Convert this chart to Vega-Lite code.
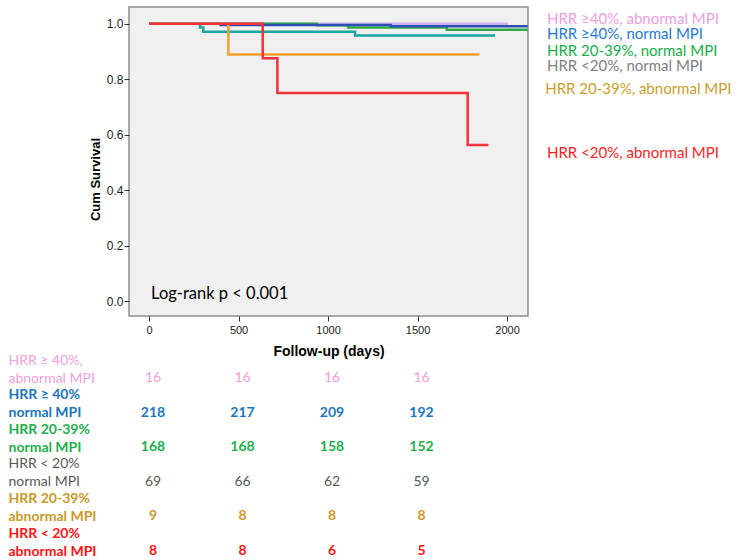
{
  "$schema": "https://vega.github.io/schema/vega-lite/v6.json",
  "padding": {"left": 8, "top": 6, "right": 0, "bottom": 0},
  "background": "white",
  "bounds": "flush",
  "spacing": 20,
  "config": {"font": "Liberation Sans", "axis": {"grid": false}},
  "resolve": {"scale": {"y": "independent", "color": "independent"}},
  "datasets": {
    "curves": [
      {"group": "HRR ≥40%, abnormal MPI", "day": 0, "surv": 1},
      {"group": "HRR ≥40%, abnormal MPI", "day": 2006, "surv": 1},
      {"group": "HRR 20-39%, normal MPI", "day": 0, "surv": 1},
      {"group": "HRR 20-39%, normal MPI", "day": 937, "surv": 0.994},
      {"group": "HRR 20-39%, normal MPI", "day": 1112, "surv": 0.986},
      {"group": "HRR 20-39%, normal MPI", "day": 1663, "surv": 0.978},
      {"group": "HRR 20-39%, normal MPI", "day": 2115, "surv": 0.978},
      {"group": "HRR ≥40%, normal MPI", "day": 0, "surv": 1},
      {"group": "HRR ≥40%, normal MPI", "day": 400, "surv": 0.995},
      {"group": "HRR ≥40%, normal MPI", "day": 1350, "surv": 0.991},
      {"group": "HRR ≥40%, normal MPI", "day": 2115, "surv": 0.991},
      {"group": "HRR <20%, normal MPI", "day": 0, "surv": 1},
      {"group": "HRR <20%, normal MPI", "day": 285, "surv": 0.986},
      {"group": "HRR <20%, normal MPI", "day": 303, "surv": 0.971},
      {"group": "HRR <20%, normal MPI", "day": 1151, "surv": 0.957},
      {"group": "HRR <20%, normal MPI", "day": 1933, "surv": 0.957},
      {"group": "HRR 20-39%, abnormal MPI", "day": 0, "surv": 1},
      {"group": "HRR 20-39%, abnormal MPI", "day": 443, "surv": 0.889},
      {"group": "HRR 20-39%, abnormal MPI", "day": 1845, "surv": 0.889},
      {"group": "HRR <20%, abnormal MPI", "day": 0, "surv": 1},
      {"group": "HRR <20%, abnormal MPI", "day": 635, "surv": 0.875},
      {"group": "HRR <20%, abnormal MPI", "day": 717, "surv": 0.75},
      {"group": "HRR <20%, abnormal MPI", "day": 1780, "surv": 0.5625},
      {"group": "HRR <20%, abnormal MPI", "day": 1896, "surv": 0.5625}
    ],
    "risk": [
      {"group": "HRR ≥ 40%,|abnormal MPI", "day": 0, "n": 16},
      {"group": "HRR ≥ 40%,|abnormal MPI", "day": 500, "n": 16},
      {"group": "HRR ≥ 40%,|abnormal MPI", "day": 1000, "n": 16},
      {"group": "HRR ≥ 40%,|abnormal MPI", "day": 1500, "n": 16},
      {"group": "HRR ≥ 40%|normal MPI", "day": 0, "n": 218},
      {"group": "HRR ≥ 40%|normal MPI", "day": 500, "n": 217},
      {"group": "HRR ≥ 40%|normal MPI", "day": 1000, "n": 209},
      {"group": "HRR ≥ 40%|normal MPI", "day": 1500, "n": 192},
      {"group": "HRR 20-39%|normal MPI", "day": 0, "n": 168},
      {"group": "HRR 20-39%|normal MPI", "day": 500, "n": 168},
      {"group": "HRR 20-39%|normal MPI", "day": 1000, "n": 158},
      {"group": "HRR 20-39%|normal MPI", "day": 1500, "n": 152},
      {"group": "HRR < 20%|normal MPI", "day": 0, "n": 69},
      {"group": "HRR < 20%|normal MPI", "day": 500, "n": 66},
      {"group": "HRR < 20%|normal MPI", "day": 1000, "n": 62},
      {"group": "HRR < 20%|normal MPI", "day": 1500, "n": 59},
      {"group": "HRR 20-39%|abnormal MPI", "day": 0, "n": 9},
      {"group": "HRR 20-39%|abnormal MPI", "day": 500, "n": 8},
      {"group": "HRR 20-39%|abnormal MPI", "day": 1000, "n": 8},
      {"group": "HRR 20-39%|abnormal MPI", "day": 1500, "n": 8},
      {"group": "HRR < 20%|abnormal MPI", "day": 0, "n": 8},
      {"group": "HRR < 20%|abnormal MPI", "day": 500, "n": 8},
      {"group": "HRR < 20%|abnormal MPI", "day": 1000, "n": 6},
      {"group": "HRR < 20%|abnormal MPI", "day": 1500, "n": 5}
    ]
  },
  "vconcat": [
    {
      "width": 399,
      "height": 309,
      "view": {"fill": "#f0f0f0", "stroke": "#8c8c8c", "strokeWidth": 1.5},
      "layer": [
        {
          "data": {"name": "curves"},
          "transform": [{"filter": "datum.group != 'HRR <20%, abnormal MPI'"}],
          "mark": {"type": "line", "interpolate": "step-after", "strokeWidth": 2.5},
          "encoding": {
            "x": {"field": "day", "type": "quantitative",
              "scale": {"domain": [-112, 2117], "nice": false, "zero": false},
              "axis": {"values": [0, 500, 1000, 1500, 2000], "format": "d", "title": "Follow-up (days)", "domain": false,
                "tickSize": 5, "tickColor": "#333", "labelFontSize": 11, "labelColor": "#222", "labelPadding": 3,
                "titleFontSize": 14, "titleFontWeight": "bold", "titleColor": "#000", "titlePadding": 9}},
            "y": {"field": "surv", "type": "quantitative",
              "scale": {"domain": [-0.054, 1.06], "nice": false, "zero": false},
              "axis": {"values": [0, 0.2, 0.4, 0.6, 0.8, 1.0], "format": ".1f", "title": "Cum Survival", "domain": false,
                "tickSize": 5, "tickColor": "#333", "labelFontSize": 12, "labelColor": "#222", "labelPadding": 1,
                "titleFontSize": 13, "titleFontWeight": "bold", "titleColor": "#000", "titlePadding": 4, "titleY": 172}},
            "color": {"field": "group", "type": "nominal", "legend": null,
              "scale": {"domain": ["HRR ≥40%, abnormal MPI", "HRR ≥40%, normal MPI", "HRR 20-39%, normal MPI", "HRR <20%, normal MPI", "HRR 20-39%, abnormal MPI", "HRR <20%, abnormal MPI"],
                "range": ["#cdb0ee", "#2f4fb5", "#2eaa44", "#1ca6a0", "#ff9e2c", "#f2333a"]}}
          }
        },
        {
          "data": {"name": "curves"},
          "transform": [{"filter": "datum.group == 'HRR <20%, abnormal MPI'"}],
          "mark": {"type": "line", "interpolate": "step-after", "strokeWidth": 2.5},
          "encoding": {
            "x": {"field": "day", "type": "quantitative"},
            "y": {"field": "surv", "type": "quantitative"},
            "color": {"field": "group", "type": "nominal", "legend": null}
          }
        },
        {
          "data": {"values": [{}]},
          "mark": {"type": "text", "align": "left", "baseline": "middle", "font": "Lato", "fontSize": 16.5, "color": "#000"},
          "encoding": {"x": {"datum": 11, "type": "quantitative"}, "y": {"datum": 0.025, "type": "quantitative"}, "text": {"value": "Log-rank p < 0.001"}}
        },
        {
          "data": {"values": [{}]},
          "mark": {"type": "text", "align": "left", "baseline": "middle", "font": "Lato", "fontSize": 15, "color": "#eaa0e0"},
          "encoding": {"x": {"datum": 2223, "type": "quantitative"}, "y": {"datum": 1.0185, "type": "quantitative"}, "text": {"value": "HRR ≥40%, abnormal MPI"}}
        },
        {
          "data": {"values": [{}]},
          "mark": {"type": "text", "align": "left", "baseline": "middle", "font": "Lato", "fontSize": 15, "color": "#1f7ad0"},
          "encoding": {"x": {"datum": 2223, "type": "quantitative"}, "y": {"datum": 0.962, "type": "quantitative"}, "text": {"value": "HRR ≥40%, normal MPI"}}
        },
        {
          "data": {"values": [{}]},
          "mark": {"type": "text", "align": "left", "baseline": "middle", "font": "Lato", "fontSize": 15, "color": "#1aad4a"},
          "encoding": {"x": {"datum": 2223, "type": "quantitative"}, "y": {"datum": 0.902, "type": "quantitative"}, "text": {"value": "HRR 20-39%, normal MPI"}}
        },
        {
          "data": {"values": [{}]},
          "mark": {"type": "text", "align": "left", "baseline": "middle", "font": "Lato", "fontSize": 15, "color": "#7f7f7f"},
          "encoding": {"x": {"datum": 2223, "type": "quantitative"}, "y": {"datum": 0.849, "type": "quantitative"}, "text": {"value": "HRR <20%, normal MPI"}}
        },
        {
          "data": {"values": [{}]},
          "mark": {"type": "text", "align": "left", "baseline": "middle", "font": "Lato", "fontSize": 15, "color": "#c8a02c"},
          "encoding": {"x": {"datum": 2213, "type": "quantitative"}, "y": {"datum": 0.764, "type": "quantitative"}, "text": {"value": "HRR 20-39%, abnormal MPI"}}
        },
        {
          "data": {"values": [{}]},
          "mark": {"type": "text", "align": "left", "baseline": "middle", "font": "Lato", "fontSize": 15, "color": "#ff1e1e"},
          "encoding": {"x": {"datum": 2223, "type": "quantitative"}, "y": {"datum": 0.534, "type": "quantitative"}, "text": {"value": "HRR <20%, abnormal MPI"}}
        }
      ]
    },
    {
      "width": 399,
      "height": 210,
      "view": {"stroke": null, "fill": null},
      "data": {"name": "risk"},
      "encoding": {
        "x": {"field": "day", "type": "quantitative", "scale": {"domain": [-112, 2117], "nice": false, "zero": false}, "axis": null},
        "y": {"field": "group", "type": "ordinal",
          "sort": ["HRR ≥ 40%,|abnormal MPI", "HRR ≥ 40%|normal MPI", "HRR 20-39%|normal MPI", "HRR < 20%|normal MPI", "HRR 20-39%|abnormal MPI", "HRR < 20%|abnormal MPI"],
          "scale": {"type": "point", "padding": 0.535, "align": 0.649},
          "axis": {"title": null, "domain": false, "ticks": false, "tickSize": 0, "labelAlign": "left", "labelBaseline": "middle",
            "labelPadding": 121, "labelFont": "Lato", "labelFontSize": 14, "labelLineHeight": 18, "labelLimit": 0,
            "labelExpr": "split(datum.value, '|')",
            "labelColor": {"condition": [
              {"test": "datum.value == 'HRR ≥ 40%,|abnormal MPI'", "value": "#f0a0dc"},
              {"test": "datum.value == 'HRR ≥ 40%|normal MPI'", "value": "#1c75bc"},
              {"test": "datum.value == 'HRR 20-39%|normal MPI'", "value": "#1eae4e"},
              {"test": "datum.value == 'HRR < 20%|normal MPI'", "value": "#595959"},
              {"test": "datum.value == 'HRR 20-39%|abnormal MPI'", "value": "#c9992a"}
            ], "value": "#ff1414"},
            "labelFontWeight": {"condition": {"test": "datum.value == 'HRR ≥ 40%,|abnormal MPI' || datum.value == 'HRR < 20%|normal MPI'", "value": "normal"}, "value": "bold"}
          }},
        "text": {"field": "n", "type": "quantitative"},
        "color": {"field": "group", "type": "nominal", "legend": null,
          "scale": {"domain": ["HRR ≥ 40%,|abnormal MPI", "HRR ≥ 40%|normal MPI", "HRR 20-39%|normal MPI", "HRR < 20%|normal MPI", "HRR 20-39%|abnormal MPI", "HRR < 20%|abnormal MPI"],
            "range": ["#f0a0dc", "#1c75bc", "#1eae4e", "#595959", "#c9992a", "#ff1414"]}}
      },
      "layer": [
        {
          "transform": [{"filter": "datum.group == 'HRR ≥ 40%,|abnormal MPI' || datum.group == 'HRR < 20%|normal MPI'"}],
          "mark": {"type": "text", "align": "center", "baseline": "middle", "dx": 4, "dy": 18, "font": "Lato", "fontSize": 14}
        },
        {
          "transform": [{"filter": "datum.group != 'HRR ≥ 40%,|abnormal MPI' && datum.group != 'HRR < 20%|normal MPI'"}],
          "mark": {"type": "text", "align": "center", "baseline": "middle", "dx": 4, "dy": 18, "font": "Lato", "fontSize": 14, "fontWeight": "bold"}
        }
      ]
    }
  ]
}
